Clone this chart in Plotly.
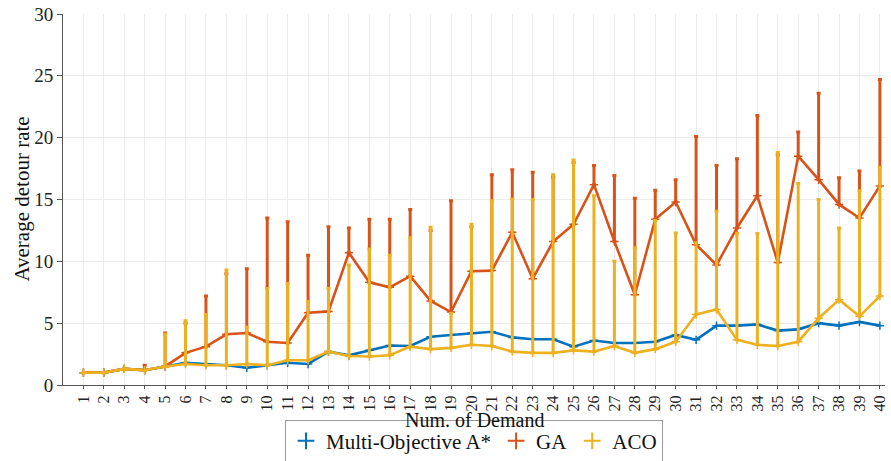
import plotly.graph_objects as go

demand = list(range(1, 41))

astar = [1.0, 1.0, 1.3, 1.2, 1.5, 1.8, 1.7, 1.6, 1.4, 1.6,
         1.8, 1.7, 2.7, 2.4, 2.8, 3.2, 3.15, 3.9, 4.05, 4.2,
         4.3, 3.85, 3.7, 3.7, 3.1, 3.6, 3.4, 3.4, 3.5, 4.05,
         3.65, 4.8, 4.8, 4.9, 4.4, 4.5, 5.0, 4.8, 5.1, 4.8]

ga = [1.0, 1.0, 1.3, 1.2, 1.5, 2.6, 3.1, 4.1, 4.2, 3.5,
      3.4, 5.85, 5.95, 10.7, 8.3, 7.9, 8.8, 6.8, 5.9, 9.2,
      9.25, 12.35, 8.6, 11.6, 13.0, 16.2, 11.6, 7.3, 13.4, 14.8,
      11.35, 9.7, 12.7, 15.3, 9.9, 18.5, 16.6, 14.6, 13.5, 16.1]

ga_max = [1.0, 1.0, 1.3, 1.6, 4.2, 5.0, 7.2, 9.0, 9.4, 13.5,
          13.2, 10.5, 12.8, 12.7, 13.4, 13.4, 14.2, 12.5, 14.9, 12.8,
          17.0, 17.4, 17.2, 16.8, 18.0, 17.75, 16.95, 15.1, 15.75, 16.6,
          20.1, 17.75, 18.3, 21.8, 18.6, 20.45, 23.6, 16.75, 17.3, 24.7]

aco = [1.0, 1.0, 1.3, 1.2, 1.5, 1.7, 1.6, 1.6, 1.7, 1.6,
       2.0, 2.0, 2.7, 2.35, 2.3, 2.4, 3.1, 2.9, 3.0, 3.25,
       3.15, 2.7, 2.6, 2.6, 2.8, 2.7, 3.15, 2.6, 2.9, 3.5,
       5.7, 6.1, 3.65, 3.25, 3.15, 3.5, 5.4, 6.9, 5.55, 7.2]

aco_max = [1.0, 1.0, 1.3, 1.2, 4.1, 5.2, 5.7, 9.3, 4.7, 7.8,
           8.2, 6.75, 7.8, 9.7, 11.0, 10.5, 11.9, 12.75, 5.8, 13.0,
           14.9, 15.05, 15.0, 17.0, 18.2, 15.3, 10.0, 11.1, 13.3, 12.3,
           11.5, 14.05, 12.25, 12.25, 18.8, 16.3, 15.0, 12.7, 15.7, 17.6]

y_ticks = [0, 5, 10, 15, 20, 25, 30]

names = ["Multi-Objective A*", "GA", "ACO"]
colors = ["#0072BD", "#D95319", "#EDB120"]
SERIF = "Liberation Serif"

fig = go.Figure()

series = [(astar, None), (ga, ga_max), (aco, aco_max)]
for (vals, mx), name, col in zip(series, names, colors):
    err = None
    if mx is not None:
        err = dict(type="data", symmetric=False,
                   array=[m - v for m, v in zip(mx, vals)],
                   arrayminus=[0] * len(vals),
                   color=col, thickness=3, width=2)
    fig.add_trace(go.Scatter(
        x=demand, y=vals, mode="lines+markers", name=name,
        line=dict(color=col, width=2.6),
        marker=dict(symbol="cross-thin", size=6, line=dict(color=col, width=1.5)),
        error_y=err, showlegend=False))

for name, col in zip(names, colors):
    fig.add_trace(go.Scatter(
        x=[None], y=[None], mode="markers", name=name,
        marker=dict(symbol="cross-thin", size=9, line=dict(color=col, width=1.5))))

fig.update_layout(
    width=891, height=461,
    margin=dict(l=63, r=6, t=14, b=76),
    plot_bgcolor="white", paper_bgcolor="white",
    font=dict(family=SERIF, color="#222222"),
    legend=dict(orientation="h", x=0.5, xanchor="center",
                yref="container", y=0.043, yanchor="middle",
                bordercolor="#9a9a9a", borderwidth=1,
                font=dict(family=SERIF, size=21, color="#111111"),
                itemwidth=30, tracegroupgap=0, itemsizing="constant",
                bgcolor="white"),
    annotations=[
        dict(text="Num. of Demand", x=0.5, y=-0.095, xref="paper", yref="paper",
             xanchor="center", yanchor="middle", showarrow=False,
             font=dict(family=SERIF, size=20, color="#111111")),
        dict(text="Average detour rate", x=-0.051, y=0.5, xref="paper", yref="paper",
             xanchor="center", yanchor="middle", showarrow=False, textangle=-90,
             font=dict(family=SERIF, size=21, color="#111111")),
    ],
    xaxis=dict(
        range=[0, 40.25], tickmode="array", tickvals=demand,
        ticktext=[str(d) for d in demand], tickangle=-90,
        tickfont=dict(family=SERIF, size=16, color="#222222"),
        showgrid=True, gridcolor="#ececec", gridwidth=1,
        showline=True, linecolor="#555555", linewidth=1,
        ticks="outside", ticklen=3, tickcolor="#555555", zeroline=False,
        automargin=False),
    yaxis=dict(
        range=[0, 30], tickmode="array", tickvals=y_ticks,
        ticktext=[str(v) for v in y_ticks],
        tickfont=dict(family=SERIF, size=19, color="#222222"),
        showgrid=True, gridcolor="#ececec", gridwidth=1,
        showline=True, linecolor="#555555", linewidth=1,
        ticks="outside", ticklen=5, tickcolor="#555555", zeroline=False,
        automargin=False),
)

fig.write_html("out.html")
